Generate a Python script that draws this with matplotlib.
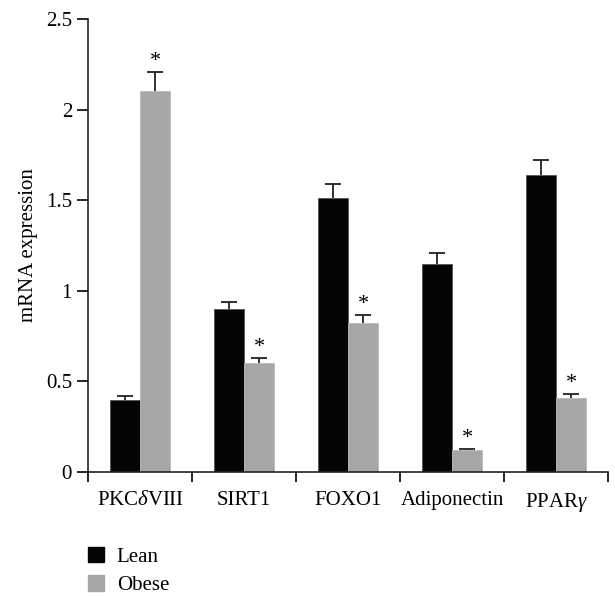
import numpy as np
import matplotlib.pyplot as plt
from matplotlib.patches import Patch

plt.rcParams['font.family'] = ['Liberation Serif', 'DejaVu Serif']
plt.rcParams['mathtext.fontset'] = 'custom'
plt.rcParams['mathtext.rm'] = 'Liberation Serif'
plt.rcParams['mathtext.it'] = 'Liberation Serif:italic'

genes = ['PKC$\\delta$VIII', 'SIRT1', 'FOXO1', 'Adiponectin', 'PPAR$\\gamma$']
lean = [0.40, 0.90, 1.51, 1.15, 1.64]
lean_err = [0.02, 0.04, 0.08, 0.06, 0.08]
obese = [2.10, 0.60, 0.82, 0.12, 0.41]
obese_err = [0.11, 0.03, 0.045, 0.008, 0.02]

lean_color = '#050505'
obese_color = '#a6a6a6'

fig = plt.figure(figsize=(6.15, 5.98), dpi=100)
ax = fig.add_axes([0.1431, 0.2107, 0.8455, 0.7575])

x = np.arange(len(genes)) + 0.5
w = 0.29
ax.bar(x - w / 2, lean, w, color=lean_color, edgecolor='#555555', linewidth=0.6)
ax.bar(x + w / 2, obese, w, color=obese_color, edgecolor='#bbbbbb', linewidth=0.6)
for pos, vals, errs in [(x - w / 2, lean, lean_err), (x + w / 2, obese, obese_err)]:
    eb = ax.errorbar(pos, vals, yerr=[np.zeros(len(vals)), errs], fmt='none',
                     ecolor='#222222', elinewidth=1.3, capsize=6, capthick=1.3)
    # only keep the upper cap
    eb[1][0].set_visible(False)
for xi, v, e in zip(x + w / 2, obese, obese_err):
    ax.text(xi, v + e + 0.005, '*', ha='center', va='bottom', fontsize=16)

ax.set_xlim(0, 5)
ax.set_ylim(0, 2.5)
ax.set_yticks([0, 0.5, 1, 1.5, 2, 2.5])
ax.set_yticklabels(['0', '0.5', '1', '1.5', '2', '2.5'])
ax.set_xticks(np.arange(6))
ax.set_xticklabels([])
ax.set_xticks(x, minor=True)
ax.set_xticklabels(genes, minor=True)
ax.tick_params(axis='x', which='minor', length=0, pad=14, labelsize=15)
ax.tick_params(axis='x', which='major', direction='out', length=7, width=1.2)
ax.tick_params(axis='y', direction='out', length=8, width=1.2, labelsize=15)
ax.spines['top'].set_visible(False)
ax.spines['right'].set_visible(False)
for s in ['left', 'bottom']:
    ax.spines[s].set_color('#222222')
    ax.spines[s].set_linewidth(1.2)
ax.set_ylabel('mRNA expression', fontsize=15, labelpad=6)

handles = [Patch(color=lean_color, label='Lean'), Patch(color=obese_color, label='Obese')]
fig.legend(handles=handles, loc='lower left', bbox_to_anchor=(0.143, 0.005),
           frameon=False, fontsize=15, borderpad=0, borderaxespad=0,
           handlelength=0.78, handleheight=0.78,
           handletextpad=0.6, labelspacing=0.4)

fig.savefig('out.png', dpi=100)
